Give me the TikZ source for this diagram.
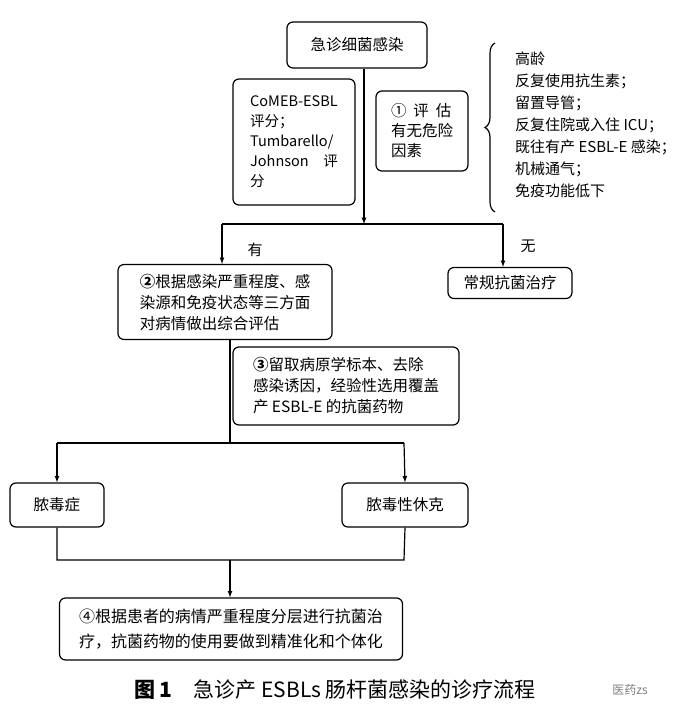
\documentclass[tikz,border=0pt]{standalone}
\usepackage{fontspec}
\setmainfont{Noto Sans CJK SC}
\usetikzlibrary{decorations.pathreplacing}
\begin{document}
\begin{tikzpicture}[x=1pt,y=-1pt,
 bx/.style={draw,line width=1.2pt,rounded corners=6pt,inner sep=4pt,font=\fontsize{15.5}{21}\selectfont},
 ln/.style={line width=1.2pt},
 ar/.style={line width=1.2pt,-latex},
 tx/.style={font=\fontsize{15}{18}\selectfont,inner sep=0}]
\useasboundingbox (0,0) rectangle (678,716);
\node[bx,minimum width=140,minimum height=46] (top) at (357,45) {急诊细菌感染};
\node[bx,minimum width=122,minimum height=126,align=left,font=\fontsize{14.5}{20}\selectfont] (co) at (294,142) {CoMEB-ESBL\\评分；\\Tumbarello/\\Johnson\quad 评\\分};
\node[bx,minimum width=92,minimum height=80,align=left,font=\fontsize{15.5}{20}\selectfont] (r1) at (422,131) {①\ \ 评\ \ 估\\有无危险\\因素};
\draw[line width=1.2pt,decorate,decoration={brace,amplitude=10pt}] (495,212) -- (495,43) coordinate (br);
\node[tx,anchor=north west,align=left,font=\fontsize{15}{22}\selectfont] (lst) at (515,52) {高龄\\反复使用抗生素；\\留置导管；\\反复住院或入住 ICU；\\既往有产 ESBL-E 感染；\\机械通气；\\免疫功能低下};
\coordinate (j1) at (364,224);
\draw[ar] (top.south -| j1) -- (j1);
\node[bx,minimum width=214,minimum height=75,align=left] (r2) at (225,302) {\textbf{②}根据感染严重程度、感\\染源和免疫状态等三方面\\对病情做出综合评估};
\node[bx,minimum width=124,minimum height=31] (cg) at (510,283) {常规抗菌治疗};
\coordinate (a1) at (222,224);
\coordinate (a2) at (503,224);
\draw[ln] (a1) -- (a2);
\draw[ar] (a1) -- (a1 |- r2.north);
\draw[ar] (a2) -- (a2 |- cg.north);
\node[tx] (you) at (255,250) {有};
\node[tx] (wu) at (528,246) {无};
\node[bx,minimum width=226,minimum height=78,align=left] (r3) at (346,386) {\textbf{③}留取病原学标本、去除\\感染诱因，经验性选用覆盖\\产 ESBL-E 的抗菌药物};
\coordinate (j2) at (230,443);
\draw[ln] (j2 |- r2.south) -- (j2);
\node[bx,minimum width=94,minimum height=44] (sep) at (57,505) {脓毒症};
\node[bx,minimum width=126,minimum height=44] (sk) at (405,505) {脓毒性休克};
\draw[ln] (57,443) -- (404,443);
\draw[ar] (57,443) -- (sep.north);
\draw[ar] (404,443) -- (sk.north);
\draw[ln] (sep.south) -- (57,560) -- (404,560) -- (sk.south);
\node[bx,minimum width=343,minimum height=62,align=left,font=\fontsize{16}{25}\selectfont] (r4) at (231,629) {④根据患者的病情严重程度分层进行抗菌治\\疗，抗菌药物的使用要做到精准化和个体化};
\coordinate (j3) at (230,560);
\draw[ar] (j3) -- (j3 |- r4.north);
\node[tx,font=\fontsize{21}{24}\selectfont] (cap) at (335,690) {\textbf{图 1}\quad 急诊产 ESBLs 肠杆菌感染的诊疗流程};
\node[tx,font=\fontsize{12}{14}\selectfont,text=gray] (wm) at (630,690) {医药zs};
\end{tikzpicture}
\end{document}
